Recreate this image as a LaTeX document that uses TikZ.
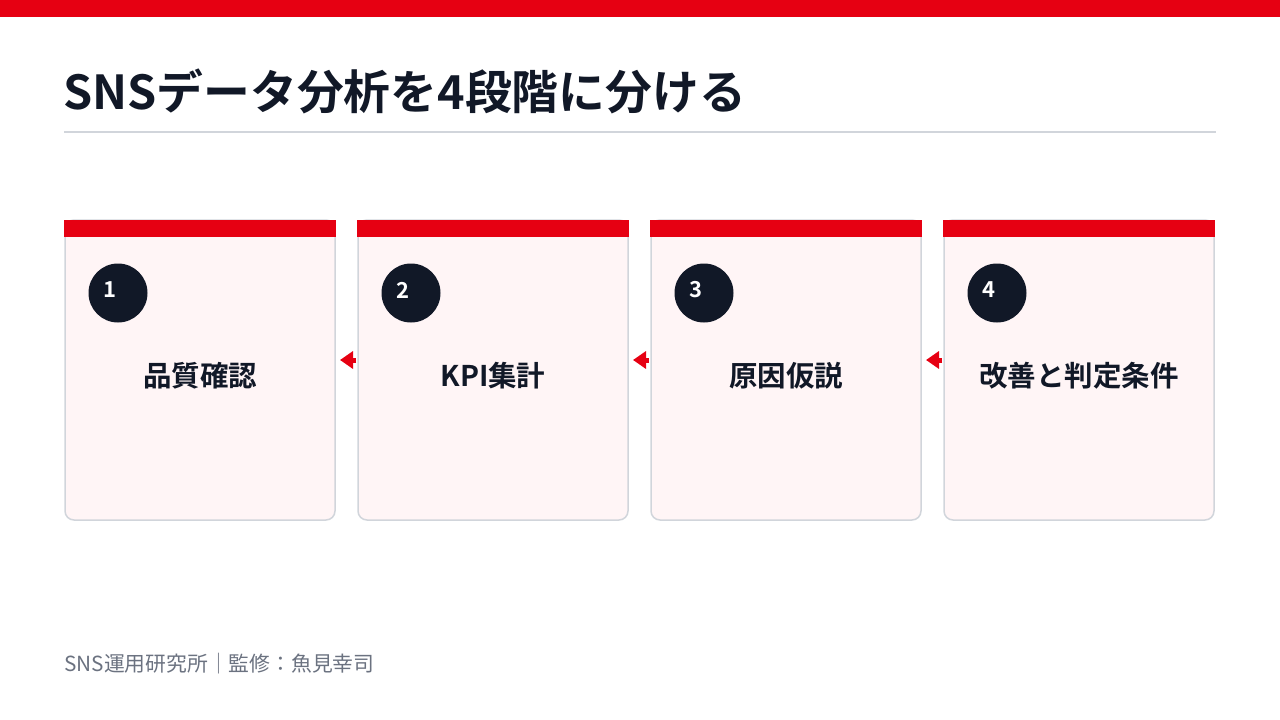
\documentclass[tikz,border=0pt]{standalone}
\usepackage{fontspec}
\setmainfont{Noto Sans CJK JP}[BoldFont={* Bold}]
\usetikzlibrary{arrows.meta}

\definecolor{snsred}{HTML}{E60012}
\definecolor{ink}{HTML}{111827}
\definecolor{cardbg}{HTML}{FFF5F6}
\definecolor{cardline}{HTML}{D1D5DB}
\definecolor{footgrey}{HTML}{6B7280}

\begin{document}
\begin{tikzpicture}[x=1pt,y=-1pt,
    card/.style={draw=cardline, line width=1.5pt, fill=cardbg, rounded corners=9pt,
        minimum width=270pt, minimum height=300pt, inner sep=0pt, outer sep=0pt},
    bar/.style={fill=snsred, draw=none, minimum width=271.5pt, minimum height=17pt,
        inner sep=0pt, outer sep=0pt},
    badge/.style={circle, fill=ink, minimum size=59pt, inner sep=0pt},
    num/.style={text=white, font=\bfseries\fontsize{22}{22}\selectfont},
    step label/.style={text=ink, font=\bfseries\fontsize{28.5}{28.5}\selectfont},
    flow/.style={draw=snsred, line width=5pt, -{Triangle[length=13pt,width=17pt]}}]
    \useasboundingbox (0,0) rectangle (1280,720);
    % top band and title
    \fill [snsred] (0,0) rectangle (1280,17);
    \node (title) [anchor=base west, inner sep=0pt, text=ink,
        font=\bfseries\fontsize{46.8}{46.8}\selectfont] at (63,109) {SNSデータ分析を4段階に分ける};
    \coordinate (rule l) at (64,132);
    \coordinate (rule r) at (1216,132);
    \draw [cardline, line width=2pt] (rule l) -- (rule r);
    % cards
    \foreach \i/\x/\txt in {1/200/品質確認, 2/493/KPI集計, 3/786/原因仮説, 4/1079/改善と判定条件} {
        \node (c\i) [card] at (\x,370) {};
        \node (b\i) [bar, anchor=north] at (c\i.north) {};
        \node (o\i) [badge] at ([xshift=53pt,yshift=-73pt]c\i.north west) {};
        \node (n\i) [num] at ([xshift=-8.5pt,yshift=3pt]o\i.center) {\i};
        \node (t\i) [step label] at ([yshift=-6pt]c\i.center) {\txt};
    }
    % arrows between cards
    \foreach \a/\b in {2/1, 3/2, 4/3} {
        \coordinate (s\a) at ([xshift=-2pt,yshift=10pt]c\a.west);
        \coordinate (e\a) at ([xshift=5pt,yshift=10pt]c\b.east);
        \draw [flow] (s\a) -- (e\a);
    }
    % footer
    \node (foot) [anchor=base west, inner sep=0pt, text=footgrey,
        font=\fontsize{20.8}{20.8}\selectfont] at (64,671) {SNS運用研究所｜監修：魚見幸司};
\end{tikzpicture}
\end{document}
